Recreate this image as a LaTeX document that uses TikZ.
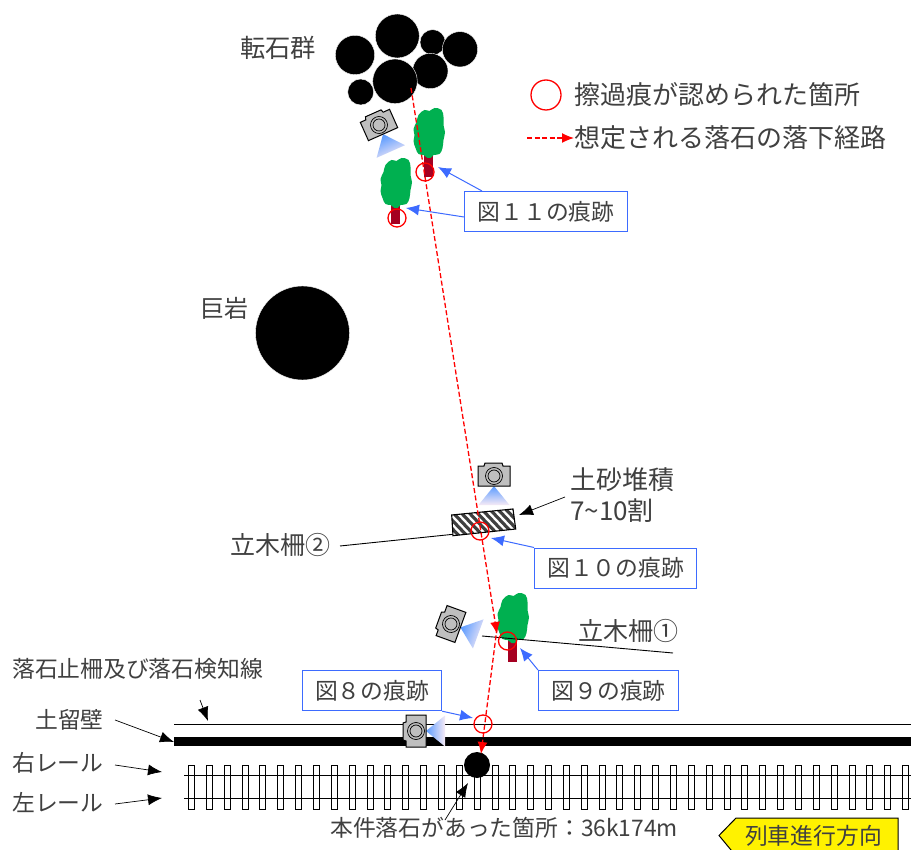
\documentclass[tikz,border=0pt]{standalone}
\usepackage{fontspec}
\setmainfont{Noto Sans CJK JP}
\usetikzlibrary{arrows.meta}
\definecolor{boxblue}{HTML}{3D6BFF}
\definecolor{txt}{HTML}{404040}
\definecolor{treegreen}{HTML}{00B050}
\definecolor{trunkred}{HTML}{A50021}
\definecolor{camgray}{HTML}{BFBFBF}
\definecolor{beamblue}{HTML}{5B9BFF}
\definecolor{beampale}{HTML}{F6EAF6}
\newcommand{\fs}[1]{\fontsize{#1}{#1}\selectfont}
\tikzset{
  x=1pt,y=-1pt,
  lab/.style={inner sep=0pt,text=txt,font=\fs{22.8},anchor=west},
  labbig/.style={lab,font=\fs{26}},
  bluebox/.style={draw=boxblue,line width=1.2pt,fill=white,text=txt,font=\fs{22.8},inner sep=0pt,minimum height=40pt,anchor=north west},
  bluearrow/.style={draw=boxblue,line width=1pt,-{Latex[length=13pt,width=11pt,fill=boxblue]}},
  blackarrow/.style={draw=black,line width=0.7pt,-{Latex[length=14pt,width=11pt,fill=black]}},
  scar/.style={draw=red,line width=1.3pt,circle,inner sep=0pt,minimum size=18pt},
  rock/.style={fill=black,draw=white,line width=0.4pt,circle,inner sep=0pt},
  route/.style={draw=red,line width=1.3pt,dash pattern=on 5pt off 2.5pt},
  routearrow/.style={route,-{Latex[length=12pt,width=10pt,fill=red]}},
  thinline/.style={draw=black,line width=0.9pt},
  tie/.style={draw=black,line width=0.9pt,fill=white},
  treepic/.pic={
    \fill[trunkred] (-4.5,-3) rectangle (4.5,#1);
    \fill[treegreen] plot[smooth cycle,tension=0.7] coordinates {
      (-1,1)(-5,-2)(-10,-3)(-13,-9)(-15,-16)(-14,-22)(-15,-28)(-12,-35)(-10,-42)(-4,-47)(1,-46)(6,-49)(13,-47)(15,-40)(15,-32)(16.5,-25)(15,-17)(14,-9)(11,-3)(5,-2)(2,1)};
  },
  campic/.pic={
    \shade[bottom color=beampale,top color=beamblue,shading angle=#1] (0,10)--(15.5,29)--(-15.5,29)--cycle;
    \draw[fill=camgray,draw=black,line width=1pt] (-16,-10)--(-10,-10)--(-9,-13)--(8,-13)--(9,-10)--(16,-10)--(16,10)--(-16,10)--cycle;
    \draw[fill=camgray,draw=black,line width=0.7pt] (0,0) circle (8.5);
    \draw[fill=camgray,draw=black,line width=0.7pt] (0,0) circle (6);
  },
}
\begin{document}
\begin{tikzpicture}
\useasboundingbox (0,0) rectangle (911,850);
\fill[white] (0,0) rectangle (911,850);

% boulders
\node[rock,minimum size=39.4pt] (r1) at (355,55) {};
\node[rock,minimum size=44pt] (r2) at (397.3,36) {};
\node[rock,minimum size=25.4pt] (r3) at (432.7,42.3) {};
\node[rock,minimum size=35.4pt] (r4) at (460,49.3) {};
\node[rock,minimum size=35.4pt] (r5) at (430.3,71) {};
\node[rock,minimum size=44.6pt] (r6) at (395,81.3) {};
\node[rock,minimum size=26pt] (r7) at (360.7,92) {};
\node[rock,minimum size=94pt] (giant) at (302.5,333) {};

% track
\draw[thinline] (174,724.5) -- (911,724.5);
\fill[black] (174,737) rectangle (911,746);
\foreach \i in {0,...,40} {
  \draw[tie] ({188.5+\i*17.85},765) rectangle ++(6,44);
}
\draw[thinline] (184,775.5) -- (911,775.5);
\draw[thinline] (184,798.5) -- (911,798.5);
\node[rock,draw=none,minimum size=26pt] (stone) at (477,765) {};

% support lines
\coordinate (l2s) at (340,546);
\coordinate (l2e) at (456,534);
\draw[thinline] (l2s) -- (l2e);
\coordinate (l1s) at (482,636);
\coordinate (l1e) at (673,653);

% hatched deposit
\begin{scope}
  \clip (451.7,515)--(513,509)--(515.7,529)--(453,535.7)--cycle;
  \fill[white] (445,500) rectangle (525,540);
  \foreach \i in {0,...,12} {
    \draw[black!75,line width=3.2pt] ({425+\i*8},500) -- ++(38,40);
  }
\end{scope}
\draw[black,line width=1.1pt] (451.7,515)--(513,509)--(515.7,529)--(453,535.7)--cycle;
\coordinate (deposit) at (519,515);

% trees
\pic at (428.5,157) {treepic=20};
\pic at (395.5,207) {treepic=17};
\pic at (512.5,642) {treepic=20};
\draw[thinline] (l1s) -- (l1e);

% cameras
\pic[rotate=24] at (379,125) {campic=24};
\pic at (494,476) {campic=0};
\pic[rotate=70] at (451,624) {campic=70};
\pic[rotate=90] at (416,731) {campic=90};

% route
\coordinate (rs) at (411,88);
\coordinate (rm) at (497,634);
\coordinate (rmb) at (497,628);
\coordinate (re) at (481,754);
\draw[routearrow] (rs) -- (rm);
\draw[routearrow] (rmb) -- (re);

% marks
\node[scar] (m1) at (425,172) {};
\node[scar] (m2) at (397,218) {};
\node[scar] (m3) at (480,531) {};
\node[scar] (m4) at (507.5,641) {};
\node[scar] (m5) at (483,724) {};

% legend
\node[draw=red,line width=1.3pt,circle,inner sep=0pt,minimum size=30pt] (lc) at (546,95) {};
\node[labbig] (lt1) at (574,95) {擦過痕が認められた箇所};
\node[labbig] (lt2) at (574,138) {想定される落石の落下経路};
\coordinate (la) at (527,138);
\draw[routearrow] (la) -- (lt2.west);

% labels
\node[labbig,font=\fs{25.3}] (t1) at (240,48) {転石群};
\node[labbig,font=\fs{24}] (t2) at (200,308) {巨岩};
\node[labbig] (t3) at (570,480) {土砂堆積};
\node[labbig] (t4) at (570,511) {7\textasciitilde 10割};
\node[labbig,font=\fs{25}] (t5) at (230,545) {立木柵②};
\node[labbig,font=\fs{25}] (t6) at (578,631) {立木柵①};
\node[lab] (t7) at (12,669) {落石止柵及び落石検知線};
\node[lab] (t8) at (35,720) {土留壁};
\node[lab] (t9) at (12,763) {右レール};
\node[lab] (t10) at (12,803) {左レール};
\node[lab,font=\fs{22.8}] (t11) at (330,828) {本件落石があった箇所：36k174m};

% direction sign
\draw[fill=yellow,draw=black,line width=1pt] (719,835.5)--(736,818)--(898,818)--(898,856)--(736,856)--cycle;
\node[lab,anchor=center] (dir) at (813.5,835.5) {列車進行方向};

% blue boxes
\node[bluebox,minimum width=163pt] (b11) at (464,191) {図１１の痕跡};
\node[bluebox,minimum width=162pt] (b10) at (534,547.5) {図１０の痕跡};
\node[bluebox,minimum width=140pt] (b9) at (538,670) {図９の痕跡};
\node[bluebox,minimum width=139pt] (b8) at (302,670) {図８の痕跡};

% blue arrows
\coordinate (a11a) at (438,167);
\coordinate (a11b) at (406,208);
\coordinate (a10) at (491,538);
\coordinate (a9) at (520,648);
\coordinate (a8) at (473,718);
\draw[bluearrow] (482,191) -- (a11a);
\draw[bluearrow] (b11.west |- 0,217) -- (a11b);
\draw[bluearrow] (b10.north west) -- (a10);
\draw[bluearrow] (b9.north west) -- (a9);
\draw[bluearrow] (b8.south east) -- (a8);

% black arrows
\coordinate (c1s) at (565,497);
\coordinate (c2s) at (200,700);
\coordinate (c2e) at (208,721);
\coordinate (c3s) at (115,720);
\coordinate (c3e) at (174,742);
\coordinate (c4s) at (115,765);
\coordinate (c4e) at (162,772);
\coordinate (c5s) at (115,804);
\coordinate (c5e) at (162,798);
\coordinate (c6s) at (445,820);
\coordinate (c6e) at (468,783);
\draw[blackarrow] (c1s) -- (deposit);
\draw[blackarrow] (c2s) -- (c2e);
\draw[blackarrow] (c3s) -- (c3e);
\draw[blackarrow] (c4s) -- (c4e);
\draw[blackarrow] (c5s) -- (c5e);
\draw[blackarrow] (c6s) -- (c6e);
\end{tikzpicture}
\end{document}
